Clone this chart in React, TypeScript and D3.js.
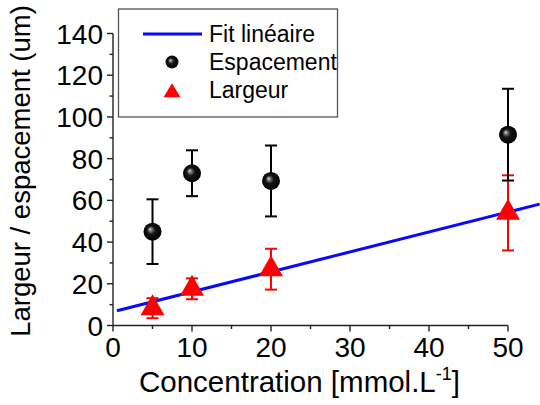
import React from 'react';
import * as d3 from 'd3';

const concentrations = [5, 10, 20, 50];
const espacement = [45, 73, 69.3, 91.5];
const espacementErr = [15.5, 11, 17, 22];
const largeur = [8.3, 17.6, 27, 54];
const largeurErr = [4.8, 5, 9.8, 18];
const fitX = [0.5, 54];
const fitY = [7.1, 58.2];
const xTicks = [0, 10, 20, 30, 40, 50];
const xMinor = [5, 15, 25, 35, 45];
const yTicks = [0, 20, 40, 60, 80, 100, 120, 140];
const yMinor = [10, 30, 50, 70, 90, 110, 130];
const legendLabels = ['Fit linéaire', 'Espacement', 'Largeur'];

const FONT = '"Liberation Sans", Arial, sans-serif';
const AXIS = '#222';

// triangle centred on its centroid
function triPath(w: number, h: number) {
  return `M0,${(-2 * h) / 3}L${w / 2},${h / 3}L${-w / 2},${h / 3}Z`;
}

export default function App() {
  const W = 540, H = 405;
  const x = d3.scaleLinear().domain([0, 50]).range([113, 508]);
  const y = d3.scaleLinear().domain([0, 140]).range([325.5, 33.5]);
  const line = d3.line<number>().x((d) => x(d)).y((_, i) => y(fitY[i]));
  const cap = 6;

  return (
    <svg width={W} height={H} style={{ position: 'absolute', left: 0, top: 0, background: '#fff' }} fontFamily={FONT}>
      <defs>
        <radialGradient id="sphere" cx="0.5" cy="0.5" r="0.5" fx="0.36" fy="0.36">
          <stop offset="0%" stopColor="#e8e8e8" />
          <stop offset="14%" stopColor="#8a8a8a" />
          <stop offset="45%" stopColor="#151515" />
          <stop offset="100%" stopColor="#000" />
        </radialGradient>
      </defs>
      <rect width={W} height={H} fill="#fff" />

      {/* axes */}
      <line x1={x(0)} x2={x(50)} y1={y(0)} y2={y(0)} stroke={AXIS} strokeWidth={1.4} />
      <line x1={x(0)} x2={x(0)} y1={y(0)} y2={y(140)} stroke={AXIS} strokeWidth={1.4} />
      {xTicks.map((t) => (
        <g key={'xt' + t}>
          <line x1={x(t)} x2={x(t)} y1={y(0)} y2={y(0) + 6} stroke={AXIS} strokeWidth={1.4} />
          <text x={x(t)} y={357} fontSize={28} textAnchor="middle" fill="#000">{t}</text>
        </g>
      ))}
      {xMinor.map((t) => (
        <line key={'xm' + t} x1={x(t)} x2={x(t)} y1={y(0)} y2={y(0) + 3.5} stroke={AXIS} strokeWidth={1.4} />
      ))}
      {yTicks.map((t) => (
        <g key={'yt' + t}>
          <line x1={x(0) - 6} x2={x(0)} y1={y(t)} y2={y(t)} stroke={AXIS} strokeWidth={1.4} />
          <text x={103} y={y(t)} dy="0.36em" fontSize={28} textAnchor="end" fill="#000">{t}</text>
        </g>
      ))}
      {yMinor.map((t) => (
        <line key={'ym' + t} x1={x(0) - 3.5} x2={x(0)} y1={y(t)} y2={y(t)} stroke={AXIS} strokeWidth={1.4} />
      ))}

      {/* axis titles */}
      <text x={139} y={392} fontSize={29.5} fill="#000">
        Concentration [mmol.L<tspan dy={-12} fontSize={18}>-1</tspan><tspan dy={12}>]</tspan>
      </text>
      <text transform={`translate(30,${171}) rotate(-90)`} fontSize={27.5} textAnchor="middle" fill="#000">
        Largeur / espacement (um)
      </text>

      {/* fit line */}
      <path d={line(fitX) || ''} stroke="#0808ff" strokeWidth={3} fill="none" />

      {/* error bars - largeur */}
      {concentrations.map((c, i) => (
        <g key={'le' + i} stroke="#ff0000" strokeWidth={2}>
          <line x1={x(c)} x2={x(c)} y1={y(largeur[i] - largeurErr[i])} y2={y(largeur[i] + largeurErr[i])} />
          <line x1={x(c) - cap} x2={x(c) + cap} y1={y(largeur[i] + largeurErr[i])} y2={y(largeur[i] + largeurErr[i])} />
          <line x1={x(c) - cap} x2={x(c) + cap} y1={y(largeur[i] - largeurErr[i])} y2={y(largeur[i] - largeurErr[i])} />
        </g>
      ))}
      {/* error bars - espacement */}
      {concentrations.map((c, i) => (
        <g key={'ee' + i} stroke="#000" strokeWidth={2}>
          <line x1={x(c)} x2={x(c)} y1={y(espacement[i] - espacementErr[i])} y2={y(espacement[i] + espacementErr[i])} />
          <line x1={x(c) - cap} x2={x(c) + cap} y1={y(espacement[i] + espacementErr[i])} y2={y(espacement[i] + espacementErr[i])} />
          <line x1={x(c) - cap} x2={x(c) + cap} y1={y(espacement[i] - espacementErr[i])} y2={y(espacement[i] - espacementErr[i])} />
        </g>
      ))}

      {/* markers */}
      {concentrations.map((c, i) => (
        <circle key={'es' + i} cx={x(c)} cy={y(espacement[i])} r={9} fill="url(#sphere)" />
      ))}
      {concentrations.map((c, i) => (
        <path key={'la' + i} transform={`translate(${x(c)},${y(largeur[i])})`} d={triPath(24, 21)} fill="#ff0000" />
      ))}

      {/* legend */}
      <rect x={118.5} y={9} width={219} height={108} fill="#fff" stroke="#555" strokeWidth={1.3} />
      <line x1={143} x2={202} y1={34} y2={34} stroke="#0808ff" strokeWidth={3} />
      <circle cx={172} cy={62} r={6.5} fill="url(#sphere)" />
      <path transform="translate(172,92.5)" d={triPath(17, 14)} fill="#ff0000" />
      {legendLabels.map((l, i) => (
        <text key={l} x={209} y={34 + i * 28} dy="0.36em" fontSize={23} fill="#000">{l}</text>
      ))}
    </svg>
  );
}
